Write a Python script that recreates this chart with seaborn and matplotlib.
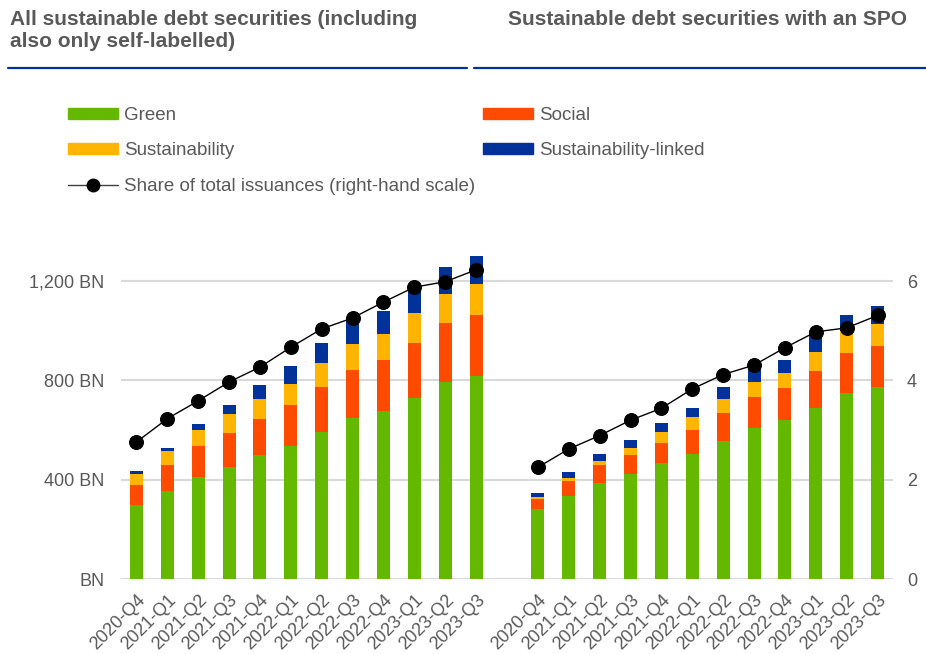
import numpy as np
import pandas as pd
import matplotlib
matplotlib.use("Agg")
import matplotlib.pyplot as plt
import seaborn as sns
from matplotlib.lines import Line2D
from matplotlib.patches import Patch
from matplotlib.ticker import FuncFormatter

# quarters shown in both panels
quarters = ["2020-Q4", "2021-Q1", "2021-Q2", "2021-Q3", "2021-Q4", "2022-Q1",
            "2022-Q2", "2022-Q3", "2022-Q4", "2023-Q1", "2023-Q2", "2023-Q3"]

# left panel: all sustainable debt securities (EUR BN)
all_green = [300, 355, 411, 451, 498, 537, 594, 647, 679, 731, 792, 819]
all_social = [78, 103, 123, 137, 146, 163, 178, 195, 203, 222, 239, 245]
all_sust = [47, 56, 67, 76, 80, 86, 97, 105, 107, 118, 119, 125]
all_slb = [11, 13, 24, 38, 59, 72, 82, 98, 91, 99, 107, 111]
all_share = [2.76, 3.23, 3.59, 3.97, 4.27, 4.67, 5.04, 5.26, 5.58, 5.88, 5.99, 6.23]

# right panel: securities with an SPO
spo_green = [282, 335, 387, 424, 467, 503, 558, 609, 639, 690, 750, 775]
spo_social = [40, 60, 71, 75, 82, 97, 110, 123, 129, 148, 159, 162]
spo_sust = [9, 11, 16, 30, 43, 51, 59, 62, 61, 78, 91, 92]
spo_slb = [16, 24, 28, 33, 37, 40, 48, 52, 55, 71, 63, 70]
spo_share = [2.25, 2.62, 2.89, 3.20, 3.44, 3.83, 4.12, 4.31, 4.66, 4.98, 5.06, 5.31]

colors = {"Green": "#65b800", "Social": "#ff4b00",
          "Sustainability": "#ffb400", "Sustainability-linked": "#003299"}
grey = "#595959"

n = len(quarters)
left = pd.DataFrame({"pos": np.arange(n), "panel": "all", "Green": all_green,
                     "Social": all_social, "Sustainability": all_sust,
                     "Sustainability-linked": all_slb, "share": all_share})
right = pd.DataFrame({"pos": np.arange(n) + n + 1, "panel": "spo", "Green": spo_green,
                      "Social": spo_social, "Sustainability": spo_sust,
                      "Sustainability-linked": spo_slb, "share": spo_share})
df = pd.concat([left, right], ignore_index=True)

cats = ["Green", "Social", "Sustainability", "Sustainability-linked"]
cum = df[cats].cumsum(axis=1)
for c in cats:
    df["top_" + c] = cum[c]

sns.set_style("white")
plt.rcParams["font.family"] = ["Liberation Sans", "DejaVu Sans"]

fig = plt.figure(figsize=(9.26, 6.54), dpi=100)
ax = fig.add_axes([121 / 926, 75 / 654, 772 / 926, 335 / 654])

# stacked bars: draw cumulative tops from the highest layer down
for c in reversed(cats):
    sns.barplot(data=df, x="pos", y="top_" + c, native_scale=True, color=colors[c],
                saturation=1, width=0.42, linewidth=0, errorbar=None, ax=ax)

ax.set_xlim(-0.5, 2 * n + 0.5)
ax.set_ylim(0, 1350)
ax.set_yticks([0, 400, 800, 1200])
ax.yaxis.set_major_formatter(FuncFormatter(lambda v, p: f"{v:,.0f} BN" if v else "BN"))
ax.yaxis.grid(True, color="#d9d9d9", linewidth=1.5)
ax.set_axisbelow(True)
ax.set_xticks(df["pos"])
ax.set_xticklabels(quarters * 2, rotation=45, ha="right", rotation_mode="anchor")
ax.tick_params(axis="x", length=0, pad=9, labelsize=13, labelcolor=grey)
ax.tick_params(axis="y", length=0, pad=12, labelsize=13, labelcolor=grey)
ax.set_xlabel("")
ax.set_ylabel("")
sns.despine(ax=ax, left=True, bottom=True)

ax2 = ax.twinx()
sns.lineplot(data=df, x="pos", y="share", hue="panel", palette=["black", "black"],
             marker="o", markersize=10, markeredgecolor="black", linewidth=1,
             legend=False, ax=ax2)
ax2.set_ylim(0, 6.75)
ax2.set_yticks([0, 2, 4, 6])
ax2.set_yticklabels(["0", "2", "4", "6"])
ax2.tick_params(axis="y", length=0, pad=10, labelsize=13, labelcolor=grey)
ax2.set_ylabel("")
ax2.grid(False)
sns.despine(ax=ax2, left=True, bottom=True, right=True)

# panel titles and rules
fig.text(10 / 926, 1 - 10 / 654, "All sustainable debt securities (including\nalso only self-labelled)",
         ha="left", va="top", fontsize=15, fontweight="bold", color=grey, linespacing=1.2)
fig.text(508 / 926, 1 - 10 / 654, "Sustainable debt securities with an SPO",
         ha="left", va="top", fontsize=15, fontweight="bold", color=grey)
fig.add_artist(Line2D([8 / 926, 467 / 926], [1 - 68 / 654] * 2, color="#003299", lw=1.6))
fig.add_artist(Line2D([474 / 926, 1.0], [1 - 68 / 654] * 2, color="#003299", lw=1.6))

handles = [Patch(color=colors["Green"]), Patch(color=colors["Sustainability"]),
           Line2D([0], [0], color="#404040", lw=1, marker="o", markersize=9,
                  markerfacecolor="black", markeredgecolor="black"),
           Patch(color=colors["Social"]), Patch(color=colors["Sustainability-linked"])]
labels = ["Green", "Sustainability", "Share of total issuances (right-hand scale)",
          "Social", "Sustainability-linked"]
fig.legend(handles, labels, ncol=2, loc="upper left", bbox_to_anchor=(68 / 926, 1 - 107 / 654),
           frameon=False, fontsize=13.5, handlelength=2.67, handleheight=0.52,
           labelspacing=0.98, columnspacing=0.45, handletextpad=0.3,
           borderpad=0, borderaxespad=0, labelcolor=grey)

fig.savefig("out.png", dpi=100)
